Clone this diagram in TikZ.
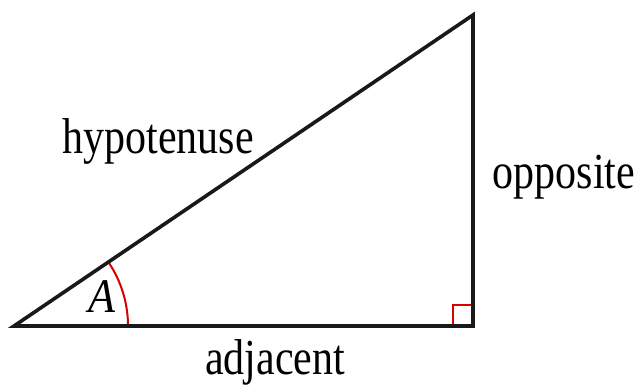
\documentclass[tikz,border=0pt]{standalone}
\usepackage{fontspec}
\setmainfont{Liberation Serif}
\usetikzlibrary{calc}
\begin{document}
\begin{tikzpicture}[x=1pt,y=-1pt,
  edge/.style={line width=3.6pt,black!90,line cap=round,line join=miter},
  redmark/.style={line width=2pt,red!85!black},
  lbl/.style={inner sep=0pt,anchor=base,font=\fontsize{42}{42}\selectfont}]
\useasboundingbox (0,0) rectangle (639,384);
\coordinate (L) at (14,326);
\coordinate (R) at (473,326);
\coordinate (T) at (473,15);
% right angle mark
\draw[redmark] ($(R)+(-20,0)$) -- ++(0,-21) -- ++(20,0);
% angle arc
\draw[redmark] ($(L)+(114,0)$) arc[start angle=0,end angle=-34.1,radius=114];
\draw[edge] (L) -- (R) -- (T) -- cycle;
\node[lbl] (hyp) at (158,153) {\scalebox{1}[1.2]{hypotenuse}};
\node[lbl] (opp) at (564,188) {\scalebox{1}[1.2]{opposite}};
\node[lbl] (adj) at (275,374) {\scalebox{1}[1.2]{adjacent}};
\node[lbl] (ang) at (102,312) {\scalebox{1.05}[1.15]{\itshape A}};
\end{tikzpicture}
\end{document}
